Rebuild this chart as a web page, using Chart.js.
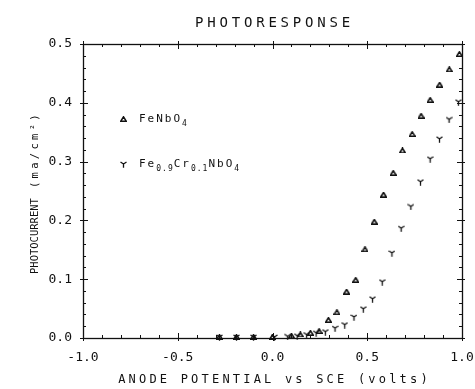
<!DOCTYPE html>
<html>
<head>
<meta charset="utf-8">
<script src="https://cdn.jsdelivr.net/npm/chart.js@4.4.1/dist/chart.umd.min.js"></script>
<style>
  body { margin: 0; background: #fff; }
  canvas { display: block; }
</style>
</head>
<body>
<canvas id="photoresponse" width="475" height="389"></canvas>
<script>
// FeNbO4 (triangles)
var triX = [-0.28, -0.19, -0.1, 0.0, 0.1, 0.147, 0.2, 0.246, 0.295, 0.34, 0.391, 0.439, 0.488, 0.537, 0.586, 0.637, 0.686, 0.737, 0.784, 0.832, 0.882, 0.933, 0.986];
var triY = [0.002, 0.002, 0.002, 0.002, 0.004, 0.006, 0.009, 0.012, 0.031, 0.044, 0.079, 0.099, 0.151, 0.198, 0.244, 0.281, 0.319, 0.347, 0.378, 0.405, 0.431, 0.457, 0.483];
// Fe0.9Cr0.1NbO4 (Y marks)
var crX = [-0.28, -0.19, -0.1, 0.01, 0.08, 0.13, 0.18, 0.23, 0.279, 0.33, 0.381, 0.43, 0.479, 0.528, 0.579, 0.63, 0.679, 0.73, 0.781, 0.832, 0.881, 0.932, 0.981];
var crY = [0.001, 0.001, 0.001, 0.001, 0.002, 0.003, 0.005, 0.008, 0.010, 0.016, 0.022, 0.035, 0.049, 0.066, 0.095, 0.144, 0.186, 0.223, 0.265, 0.304, 0.338, 0.371, 0.401];

var xTicks = [-1.0, -0.5, 0.0, 0.5, 1.0];
var yTicks = [0.0, 0.1, 0.2, 0.3, 0.4, 0.5];

var title = 'PHOTORESPONSE';
var xTitle = 'ANODE POTENTIAL vs SCE (volts)';

var ink = '#111';
var mono = "'DejaVu Sans Mono', monospace";

function pairs(xs, ys) {
    return xs.map(function(x, i) { return { x: x, y: ys[i] }; });
}

// marker glyphs
function triangleMark() {
    var c = document.createElement('canvas');
    c.width = 7; c.height = 6;
    var g = c.getContext('2d');
    g.strokeStyle = ink; g.lineWidth = 1.5;
    g.beginPath();
    g.moveTo(0.8, 5.2); g.lineTo(3.5, 0.8); g.lineTo(6.2, 5.2); g.closePath();
    g.stroke();
    return c;
}
function yMark() {
    var c = document.createElement('canvas');
    c.width = 7; c.height = 7;
    var g = c.getContext('2d');
    g.strokeStyle = ink; g.lineWidth = 1.3;
    g.beginPath();
    g.moveTo(0.5, 1); g.lineTo(3.5, 3);
    g.moveTo(6.5, 1); g.lineTo(3.5, 3);
    g.moveTo(3.5, 3); g.lineTo(3.5, 6.8);
    g.stroke();
    return c;
}
var triImg = triangleMark();
var yImg = yMark();

function text(ctx, s, x, y, size, spacing, align) {
    ctx.font = size + 'px ' + mono;
    ctx.letterSpacing = spacing + 'px';
    ctx.textAlign = align || 'left';
    ctx.textBaseline = 'middle';
    ctx.fillText(s, x, y);
    var w = ctx.measureText(s).width;
    ctx.letterSpacing = '0px';
    return w;
}

// rich label: parts are [string, isSubscript]
function rich(ctx, parts, x, y) {
    var cx = x;
    parts.forEach(function(p) {
        if (p[1]) cx += text(ctx, p[0], cx, y + 5, 8, 1);
        else cx += text(ctx, p[0], cx, y, 11, 2);
    });
}

var framePlugin = {
    id: 'frame',
    beforeDatasetsDraw: function(chart) {
        var ctx = chart.ctx, a = chart.chartArea;
        var xs = chart.scales.x, ys = chart.scales.y;
        ctx.save();
        ctx.strokeStyle = ink;
        ctx.lineWidth = 1.3;
        ctx.strokeRect(Math.round(a.left) + 0.5, Math.round(a.top) + 0.5,
                       Math.round(a.right - a.left), Math.round(a.bottom - a.top));
        ctx.lineWidth = 1;
        ctx.beginPath();
        // x ticks every 0.1, major every 0.5
        var n = Math.round((xs.max - xs.min) / 0.1);
        for (var i = 0; i <= n; i++) {
            var px = Math.round(xs.getPixelForValue(xs.min + i * 0.1)) + 0.5;
            var major = i % 5 === 0;
            var inL = major ? 5 : 3, outL = major ? 3 : 0;
            ctx.moveTo(px, a.bottom + outL); ctx.lineTo(px, a.bottom - inL);
            ctx.moveTo(px, a.top - outL); ctx.lineTo(px, a.top + inL);
        }
        // y ticks every 0.02, major every 0.1
        var m = Math.round((ys.max - ys.min) / 0.02);
        for (var j = 0; j <= m; j++) {
            var py = Math.round(ys.getPixelForValue(ys.min + j * 0.02)) + 0.5;
            var maj = j % 5 === 0;
            var inL2 = maj ? 5 : 3, outL2 = maj ? 3 : 0;
            ctx.moveTo(a.left - outL2, py); ctx.lineTo(a.left + inL2, py);
            ctx.moveTo(a.right + outL2, py); ctx.lineTo(a.right - inL2, py);
        }
        ctx.stroke();
        ctx.restore();
    },
    afterDraw: function(chart) {
        var ctx = chart.ctx, a = chart.chartArea;
        var cx = (a.left + a.right) / 2, cy = (a.top + a.bottom) / 2;
        ctx.save();
        ctx.fillStyle = ink;
        text(ctx, title, cx + 2, a.top - 21, 14, 3.8, 'center');
        text(ctx, xTitle, cx + 2, a.bottom + 42, 12, 3.2, 'center');

        // y title, rotated
        ctx.save();
        ctx.translate(35, cy);
        ctx.rotate(-Math.PI / 2);
        text(ctx, 'PHOTOCURRENT', -83, 0, 10.5, 0, 'left');
        text(ctx, '(ma/cm\u00b2)', 3, 0, 10.5, 3.3, 'left');
        ctx.restore();

        // legend inside plot
        var ds = chart.data.datasets;
        ctx.drawImage(ds[0].pointStyle, a.left + 37, a.top + 72);
        rich(ctx, [['FeNbO', false], ['4', true]], a.left + 56, a.top + 75);
        ctx.drawImage(ds[1].pointStyle, a.left + 37, a.top + 117);
        rich(ctx, [['Fe', false], ['0.9', true], ['Cr', false], ['0.1', true], ['NbO', false], ['4', true]], a.left + 56, a.top + 120);
        ctx.restore();
    }
};

var ctx = document.getElementById('photoresponse').getContext('2d');
var chart = new Chart(ctx, {
    type: 'scatter',
    data: {
        datasets: [{
            label: 'FeNbO4',
            data: pairs(triX, triY),
            pointStyle: triImg,
            clip: false
        }, {
            label: 'Fe0.9Cr0.1NbO4',
            data: pairs(crX, crY),
            pointStyle: yImg,
            clip: false
        }]
    },
    options: {
        responsive: false,
        animation: false,
        devicePixelRatio: 1,
        layout: { padding: { top: 44, right: 13, left: 0, bottom: 0 } },
        plugins: {
            legend: { display: false },
            tooltip: { enabled: false }
        },
        scales: {
            x: {
                type: 'linear',
                min: xTicks[0],
                max: xTicks[xTicks.length - 1],
                afterBuildTicks: function(s) { s.ticks = xTicks.map(function(v) { return { value: v }; }); },
                afterFit: function(s) { s.height = 51; s.paddingLeft = 0; s.paddingRight = 0; },
                grid: { display: false, drawTicks: false },
                border: { display: false },
                ticks: {
                    padding: 12,
                    color: ink,
                    font: { family: mono, size: 13 },
                    maxRotation: 0,
                    callback: function(v) { return v.toFixed(1); }
                }
            },
            y: {
                type: 'linear',
                min: yTicks[0],
                max: yTicks[yTicks.length - 1],
                afterBuildTicks: function(s) { s.ticks = yTicks.map(function(v) { return { value: v }; }); },
                afterFit: function(s) { s.width = 83; s.paddingTop = 0; s.paddingBottom = 0; },
                grid: { display: false, drawTicks: false },
                border: { display: false },
                ticks: {
                    padding: 11,
                    color: ink,
                    font: { family: mono, size: 13 },
                    callback: function(v) { return v.toFixed(1); }
                }
            }
        }
    },
    plugins: [framePlugin]
});
</script>
</body>
</html>
